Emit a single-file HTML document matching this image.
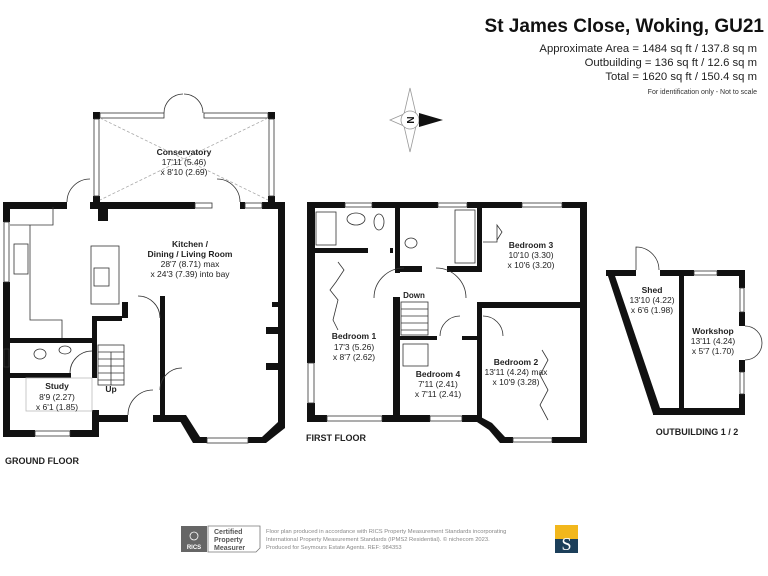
<!DOCTYPE html>
<html><head><meta charset="utf-8"><style>
body{margin:0;background:#fff;width:768px;height:576px;overflow:hidden;font-family:"Liberation Sans",Arial,sans-serif}
svg{position:absolute;left:0;top:0}
</style></head><body>
<svg width="768" height="576" viewBox="0 0 768 576" font-family="Liberation Sans, Arial, sans-serif">
<!-- Header -->
<text x="764" y="32" font-size="19" font-weight="bold" text-anchor="end" fill="#111">St James Close, Woking, GU21</text>
<text x="757" y="52" font-size="11.3" text-anchor="end" fill="#222">Approximate Area = 1484 sq ft / 137.8 sq m</text>
<text x="757" y="66" font-size="11.3" text-anchor="end" fill="#222">Outbuilding = 136 sq ft / 12.6 sq m</text>
<text x="757" y="80" font-size="11.3" text-anchor="end" fill="#222">Total = 1620 sq ft / 150.4 sq m</text>
<text x="757" y="94" font-size="7" text-anchor="end" fill="#333">For identification only - Not to scale</text>

<!-- Compass -->
<g stroke="#999" stroke-width="0.8" fill="#fff">
<polygon points="410,88 416,114 410,120 404,114"/>
<polygon points="410,152 416,126 410,120 404,126"/>
<polygon points="390,120 404,114 410,120 404,126"/>
<circle cx="410" cy="120" r="9"/>
</g>
<polygon points="419,113 443,120 419,127" fill="#111"/>
<text x="410" y="124" font-size="10" font-weight="bold" text-anchor="middle" transform="rotate(-90 410 120)" fill="#111">N</text>

<!-- GROUND FLOOR -->
<g fill="#111">
<rect x="3" y="202" width="64" height="7"/>
<rect x="90" y="202" width="105" height="7"/>
<rect x="240" y="202" width="5" height="7"/>
<rect x="262" y="202" width="23" height="7"/>
<rect x="3" y="202" width="7" height="20"/>
<rect x="3" y="282" width="7" height="155"/>
<rect x="278" y="202" width="7" height="225"/>
<rect x="3" y="430" width="32" height="7"/>
<rect x="70" y="430" width="29" height="7"/>
<rect x="92" y="410" width="7" height="27"/>
<rect x="92" y="415" width="36" height="7"/>
<rect x="153" y="415" width="30" height="7"/>
<rect x="98" y="207" width="10" height="14"/>
<polygon points="180,415 186,415 200,437 200,443 193,443 180,421"/>
<rect x="193" y="437" width="14" height="6"/>
<rect x="248" y="437" width="14" height="6"/>
<polygon points="262,437 278,422 285,422 285,428 266,443 262,443"/>
<rect x="9" y="338" width="84" height="5"/>
<rect x="9" y="373" width="62" height="5"/>
<rect x="92" y="316" width="5" height="62"/>
<rect x="92" y="316" width="30" height="5"/>
<rect x="122" y="302" width="6" height="16"/>
<rect x="160" y="296" width="5" height="120"/>
<rect x="272" y="302" width="7" height="5"/>
<rect x="266" y="327" width="13" height="7"/>
<rect x="266" y="363" width="13" height="7"/>
<rect x="93" y="112" width="7" height="7"/>
<rect x="268" y="112" width="7" height="7"/>
<rect x="93" y="196" width="7" height="7"/>
<rect x="268" y="196" width="7" height="7"/>
</g>
<g fill="none" stroke="#333" stroke-width="0.8">
<rect x="100" y="113" width="64" height="5"/>
<rect x="204" y="113" width="64" height="5"/>
<rect x="94" y="119" width="5" height="77"/>
<rect x="269" y="119" width="5" height="77"/>
<path d="M164,113 A19,19 0 0 1 183,94 M203,113 A19,19 0 0 0 184,94"/>
<line x1="100" y1="118" x2="268" y2="200" stroke-dasharray="3,2" stroke="#aaa"/>
<line x1="268" y1="118" x2="100" y2="200" stroke-dasharray="3,2" stroke="#aaa"/>
<rect x="195" y="203" width="17" height="5"/>
<rect x="245" y="203" width="17" height="5"/>
<path d="M67,202 A23,23 0 0 1 90,179 M240,202 A23,23 0 0 0 217,179"/>
<rect x="4" y="222" width="5" height="60"/>
<rect x="35" y="431" width="35" height="5"/>
<rect x="207" y="438" width="41" height="5"/>
<rect x="4" y="349" width="5" height="18"/>
<path d="M10,225 H53 V207 M53,225 H30 V320 H62 V338"/>
<rect x="91" y="246" width="28" height="58"/>
<rect x="94" y="268" width="15" height="18"/>
<rect x="14" y="244" width="14" height="30"/>
<rect x="98" y="345" width="26" height="40"/>
<path d="M98,352H124M98,359H124M98,366H124M98,373H124M98,380H124M111,385V352"/>
<path d="M128,415 A25,25 0 0 1 153,390 M160,318 A22,22 0 0 0 138,296 M160,390 A22,22 0 0 1 182,368"/>
<path d="M70,373 A22,22 0 0 1 92,351"/>
<rect x="26" y="378" width="66" height="33" stroke="#bbb"/>
<ellipse cx="40" cy="354" rx="6" ry="5"/>
<ellipse cx="65" cy="350" rx="6" ry="4"/>
</g>
<g fill="#222" text-anchor="middle">
<text x="184" y="155" font-size="8.5" font-weight="bold">Conservatory</text>
<text x="184" y="165" font-size="8.5">17'11 (5.46)</text>
<text x="184" y="175" font-size="8.5">x 8'10 (2.69)</text>
<text x="190" y="247" font-size="8.5" font-weight="bold">Kitchen /</text>
<text x="190" y="257" font-size="8.5" font-weight="bold">Dining / Living Room</text>
<text x="190" y="267" font-size="8.5">28'7 (8.71) max</text>
<text x="190" y="277" font-size="8.5">x 24'3 (7.39) into bay</text>
<text x="57" y="389" font-size="8.5" font-weight="bold">Study</text>
<text x="57" y="400" font-size="8.5">8'9 (2.27)</text>
<text x="57" y="410" font-size="8.5">x 6'1 (1.85)</text>
<text x="111" y="392" font-size="8.5" font-weight="bold">Up</text>
<text x="42" y="464" font-size="9" font-weight="bold">GROUND FLOOR</text>
</g>

<!-- FIRST FLOOR -->
<g fill="#111">
<rect x="307" y="202" width="38" height="6"/>
<rect x="372" y="202" width="66" height="6"/>
<rect x="467" y="202" width="55" height="6"/>
<rect x="562" y="202" width="25" height="6"/>
<rect x="307" y="202" width="8" height="161"/>
<rect x="307" y="403" width="8" height="19"/>
<rect x="580" y="202" width="7" height="241"/>
<rect x="307" y="415" width="20" height="7"/>
<rect x="382" y="415" width="48" height="7"/>
<rect x="462" y="415" width="20" height="7"/>
<polygon points="477,415 492,423 505,437 513,437 513,443 500,443 489,430 477,422"/>
<rect x="552" y="437" width="35" height="6"/>
<rect x="393" y="297" width="7" height="125"/>
<rect x="313" y="248" width="55" height="5"/>
<rect x="390" y="248" width="3" height="5"/>
<rect x="395" y="202" width="5" height="71"/>
<rect x="395" y="266" width="27" height="6"/>
<rect x="447" y="266" width="35" height="6"/>
<rect x="477" y="202" width="5" height="70"/>
<rect x="477" y="302" width="110" height="6"/>
<rect x="477" y="302" width="5" height="120"/>
<rect x="400" y="336" width="37" height="4"/>
<rect x="462" y="336" width="17" height="4"/>
</g>
<g fill="none" stroke="#333" stroke-width="0.8">
<rect x="345" y="203" width="27" height="4"/>
<rect x="438" y="203" width="29" height="4"/>
<rect x="522" y="203" width="40" height="4"/>
<rect x="327" y="416" width="55" height="5"/>
<rect x="430" y="416" width="32" height="5"/>
<rect x="513" y="438" width="39" height="4"/>
<rect x="308" y="363" width="6" height="40"/>
<rect x="316" y="212" width="20" height="33"/>
<ellipse cx="356" cy="219" rx="9" ry="6"/>
<ellipse cx="379" cy="222" rx="5" ry="8"/>
<ellipse cx="411" cy="243" rx="6" ry="5"/>
<rect x="455" y="210" width="20" height="53"/>
<rect x="401" y="302" width="27" height="33"/>
<path d="M401,309H428M401,316H428M401,323H428M401,330H428"/>
<path d="M374,298 A30,30 0 0 1 404,268 M436,268 A30,30 0 0 1 466,298 M440,336 A20,20 0 0 1 460,316 M483,316 A20,20 0 0 1 503,336"/>
<path d="M338,262 L344,270 L336,282 L330,290 L338,300 L333,320 L338,330"/>
<path d="M542,350 L548,360 L540,375 L548,390 L540,405 L548,420"/>
<path d="M483,242 H497 V225 L502,232 L497,240"/>
<rect x="403" y="344" width="25" height="22"/>
</g>
<g fill="#222" text-anchor="middle">
<text x="354" y="339" font-size="8.5" font-weight="bold">Bedroom 1</text>
<text x="354" y="350" font-size="8.5">17'3 (5.26)</text>
<text x="354" y="360" font-size="8.5">x 8'7 (2.62)</text>
<text x="531" y="248" font-size="8.5" font-weight="bold">Bedroom 3</text>
<text x="531" y="258" font-size="8.5">10'10 (3.30)</text>
<text x="531" y="268" font-size="8.5">x 10'6 (3.20)</text>
<text x="438" y="377" font-size="8.5" font-weight="bold">Bedroom 4</text>
<text x="438" y="387" font-size="8.5">7'11 (2.41)</text>
<text x="438" y="397" font-size="8.5">x 7'11 (2.41)</text>
<text x="516" y="365" font-size="8.5" font-weight="bold">Bedroom 2</text>
<text x="516" y="375" font-size="8.5">13'11 (4.24) max</text>
<text x="516" y="385" font-size="8.5">x 10'9 (3.28)</text>
<text x="414" y="298" font-size="8" font-weight="bold">Down</text>
<text x="336" y="441" font-size="9" font-weight="bold">FIRST FLOOR</text>
</g>

<!-- OUTBUILDING -->
<g fill="#111">
<polygon points="606,270 613,270 660,408 653,414"/>
<rect x="606" y="270" width="30" height="6"/>
<rect x="660" y="270" width="34" height="6"/>
<rect x="717" y="270" width="28" height="6"/>
<rect x="739" y="270" width="6" height="18"/>
<rect x="739" y="312" width="6" height="14"/>
<rect x="739" y="360" width="6" height="12"/>
<rect x="739" y="394" width="6" height="21"/>
<rect x="653" y="408" width="92" height="7"/>
<rect x="679" y="270" width="5" height="145"/>
</g>
<g fill="none" stroke="#333" stroke-width="0.8">
<rect x="694" y="271" width="23" height="4"/>
<rect x="740" y="288" width="4" height="24"/>
<rect x="740" y="372" width="4" height="22"/>
<path d="M636,270 V247 A23,23 0 0 1 659,270 M745,326 A17,17 0 0 1 762,343 M745,360 A17,17 0 0 0 762,343"/>
</g>
<g fill="#222" text-anchor="middle">
<text x="652" y="293" font-size="8.5" font-weight="bold">Shed</text>
<text x="652" y="303" font-size="8.5">13'10 (4.22)</text>
<text x="652" y="313" font-size="8.5">x 6'6 (1.98)</text>
<text x="713" y="334" font-size="8.5" font-weight="bold">Workshop</text>
<text x="713" y="344" font-size="8.5">13'11 (4.24)</text>
<text x="713" y="354" font-size="8.5">x 5'7 (1.70)</text>
<text x="697" y="435" font-size="9" font-weight="bold">OUTBUILDING 1 / 2</text>
</g>

<!-- Footer -->
<rect x="181" y="526" width="26" height="26" fill="#666"/>
<text x="194" y="549" font-size="6" font-weight="bold" fill="#fff" text-anchor="middle">RICS</text>
<circle cx="194" cy="536" r="4" fill="none" stroke="#fff" stroke-width="0.8"/>
<path d="M208,526 H260 V548 L256,552 H208 Z" fill="none" stroke="#777" stroke-width="0.8"/>
<text x="214" y="534" font-size="7" font-weight="bold" fill="#555">Certified</text>
<text x="214" y="542" font-size="7" font-weight="bold" fill="#555">Property</text>
<text x="214" y="550" font-size="7" font-weight="bold" fill="#555">Measurer</text>
<text x="266" y="533" font-size="5.8" fill="#888">Floor plan produced in accordance with RICS Property Measurement Standards incorporating</text>
<text x="266" y="541" font-size="5.8" fill="#888">International Property Measurement Standards (IPMS2 Residential). © nichecom 2023.</text>
<text x="266" y="549" font-size="5.8" fill="#888">Produced for Seymours Estate Agents.   REF: 984353</text>
<rect x="555" y="525" width="23" height="14" fill="#f2b71c"/>
<rect x="555" y="539" width="23" height="14" fill="#1c3f5a"/>
<text x="566.5" y="550" font-size="18" font-family="Liberation Serif, serif" fill="#fff" text-anchor="middle">S</text>
</svg>
</body></html>
